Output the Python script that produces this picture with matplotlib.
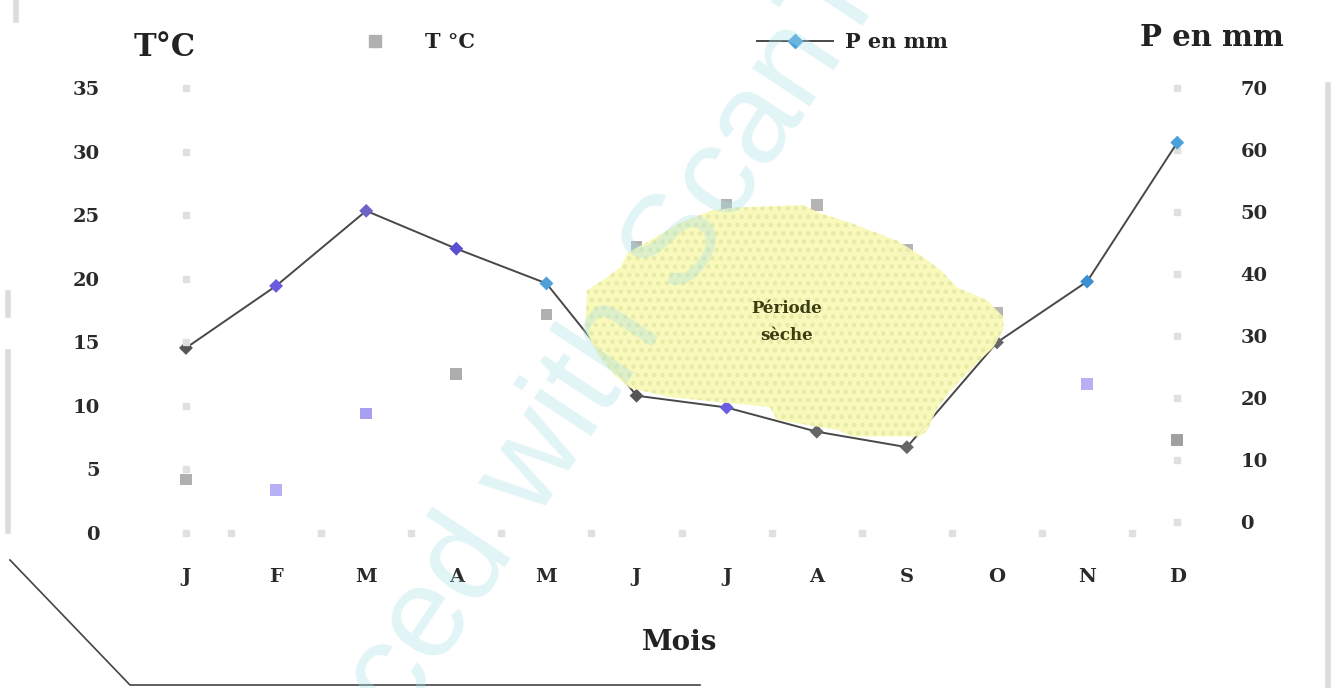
import matplotlib
matplotlib.use("Agg")
import matplotlib.pyplot as plt
from matplotlib.lines import Line2D
from matplotlib.patches import Polygon

# monthly climate values
months = ['J', 'F', 'M', 'A', 'M', 'J', 'J', 'A', 'S', 'O', 'N', 'D']
temp_c = [4.2, 3.4, 9.4, 12.5, 17.2, 22.5, 25.8, 25.8, 22.3, 17.3, 11.7, 7.3]
precip_mm = [28.1, 38.1, 50.2, 44.1, 38.5, 20.4, 18.5, 14.6, 12.1, 29.0, 38.8, 61.2]

temp_ticks = [0, 5, 10, 15, 20, 25, 30, 35]
precip_ticks = [0, 10, 20, 30, 40, 50, 60, 70]

# outline of the dry season patch (month index, degC)
dry_x = [4.82, 4.91, 5.15, 5.48, 5.85, 6.12, 6.85, 7.02, 7.37, 7.89, 8.18, 8.37,
         8.56, 8.89, 9.07, 9.07, 8.96, 8.78, 8.56, 8.34, 8.23, 8.15, 7.40, 7.23,
         6.56, 6.48, 6.04, 5.37, 4.93, 4.76, 4.57, 4.43, 4.45, 4.63]
dry_y = [20.9, 22.1, 23.0, 24.4, 25.4, 25.6, 25.8, 25.2, 24.4, 23.0, 21.7, 20.7,
         19.3, 18.3, 17.0, 16.0, 14.6, 13.4, 11.8, 9.9, 8.1, 7.6, 7.6, 8.1,
         8.9, 9.9, 10.2, 10.7, 11.4, 12.4, 14.0, 16.0, 19.1, 19.9]

# marker colours as they came out of the print
temp_colors = ['#b0b0b0', '#b8b0f6', '#a99ff0', '#adadad', '#b0b0b0', '#b0b0b0',
               '#b4b4b4', '#b4b4b4', '#b4b4b4', '#b4b4b4', '#b8b0f6', '#a0a0a0']
precip_colors = ['#555555', '#6a5ce0', '#6f63c8', '#5a4fd0', '#4f9fd8', '#555555',
                 '#6a5ce0', '#666666', '#666666', '#666666', '#3d8fd0', '#4aa0dc']

W, H = 1333, 688
serif = 'DejaVu Serif'
txt = '#222222'

fig = plt.figure(figsize=(W / 100, H / 100), dpi=100)
ax = fig.add_axes([140 / W, 155 / H, 1085 / W, 445 / H])
ax2 = ax.twinx()

x = list(range(len(months)))

ax.set_xlim(-0.51, 11.53)
ax.set_ylim(0, 35)
ax2.set_ylim(-1.73, 68.1)

for a in (ax, ax2):
    for s in a.spines.values():
        s.set_visible(False)

ax.set_zorder(ax2.get_zorder() + 1)
ax.patch.set_visible(False)

# faint axis ticks
ax.plot([0] * len(temp_ticks), temp_ticks, 's', color='#e0e0e0', ms=4, zorder=1, clip_on=False)
ax.plot([k + 0.5 for k in range(11)], [0] * 11, 's', color='#e0e0e0', ms=4, zorder=1, clip_on=False)
ax2.plot([11] * len(precip_ticks), precip_ticks, 's', color='#e0e0e0', ms=4, zorder=1, clip_on=False)

# precipitation line
ax2.plot(x, precip_mm, '-', color='#484848', lw=1.4, zorder=2)
ax2.scatter(x, precip_mm, marker='D', s=50, c=precip_colors, zorder=3, linewidths=0)

# temperature points
ax.scatter(x, temp_c, marker='s', s=70, c=temp_colors, zorder=2, linewidths=0)

# dry season
dry = list(zip(dry_x, dry_y))
ax.add_patch(Polygon(dry, closed=True, facecolor='#f9f9b8', edgecolor='none', alpha=0.95, zorder=4))
plt.rcParams['hatch.linewidth'] = 2.0
ax.add_patch(Polygon(dry, closed=True, facecolor='none', edgecolor='#e6eba8', hatch='..',
                     lw=0, zorder=4))
ax.text(6.67, 16.6, 'Période\nsèche', ha='center', va='center', fontsize=12,
        fontweight='bold', family=serif, color='#3d3d12', linespacing=1.8, zorder=5)

# ticks
ax.set_xticks(x)
ax.set_xticklabels(months)
ax.set_yticks(temp_ticks)
ax2.set_yticks(precip_ticks)
ax.tick_params(axis='x', length=0, pad=25)
ax.tick_params(axis='y', length=0, pad=29)
ax2.tick_params(axis='y', length=0, pad=11)
for lab in ax.get_xticklabels() + ax.get_yticklabels() + ax2.get_yticklabels():
    lab.set_fontfamily(serif)
    lab.set_fontweight('bold')
    lab.set_fontsize(14)
    lab.set_color('#2a2a2a')

# axis titles
fig.text(165 / W, 1 - 47 / H, 'T°C', ha='center', va='center', fontsize=22,
         fontweight='bold', family=serif, color=txt)
fig.text(1212 / W, 1 - 38 / H, 'P en mm', ha='center', va='center', fontsize=21,
         fontweight='bold', family=serif, color=txt)
fig.text(680 / W, 1 - 643 / H, 'Mois', ha='center', va='center', fontsize=20,
         fontweight='bold', family=serif, color=txt)

# legend, one entry per box
leg_font = {'family': serif, 'weight': 'bold', 'size': 15}
h_t = Line2D([], [], marker='s', ls='none', color='#b0b0b0', ms=8)
h_p = Line2D([], [], marker='D', color='#484848', lw=1.4, mfc='#4aa0dc', mec='#4aa0dc', ms=7)
leg1 = fig.legend([h_t], ['T °C'], loc='center left', bbox_to_anchor=(354 / W, 1 - 42 / H),
                  frameon=False, handlelength=2.0, handletextpad=1.4,
                  borderpad=0, borderaxespad=0, prop=leg_font)
leg2 = fig.legend([h_p], ['P en mm'], loc='center left', bbox_to_anchor=(757 / W, 1 - 42 / H),
                  frameon=False, handlelength=3.65, handletextpad=0.58,
                  borderpad=0, borderaxespad=0, prop=leg_font)
for leg in (leg1, leg2):
    for t in leg.get_texts():
        t.set_color(txt)


# page edges of the scan
def px(xp, yp):
    return xp / W, 1 - yp / H


edges = [
    ([8, 8], [293, 315]),
    ([8, 8], [352, 531]),
    ([16, 16], [0, 20]),
    ([1328, 1328], [85, 688]),
]
for ex, ey in edges:
    p0, p1 = px(ex[0], ey[0]), px(ex[1], ey[1])
    fig.add_artist(Line2D([p0[0], p1[0]], [p0[1], p1[1]], color='#dcdcdc', lw=4))
p0, p1, p2 = px(10, 560), px(130, 685), px(700, 685)
fig.add_artist(Line2D([p0[0], p1[0], p2[0]], [p0[1], p1[1], p2[1]], color='#444444', lw=1.2))

# watermark
fig.text(620 / W, 1 - 332 / H, 'Produced with ScanTOPDF', ha='center', va='center',
         rotation=56.5, rotation_mode='anchor', fontsize=93, family='Liberation Sans',
         color='#a8e0e6', alpha=0.35, zorder=10)

fig.savefig('out.png', dpi=100)
